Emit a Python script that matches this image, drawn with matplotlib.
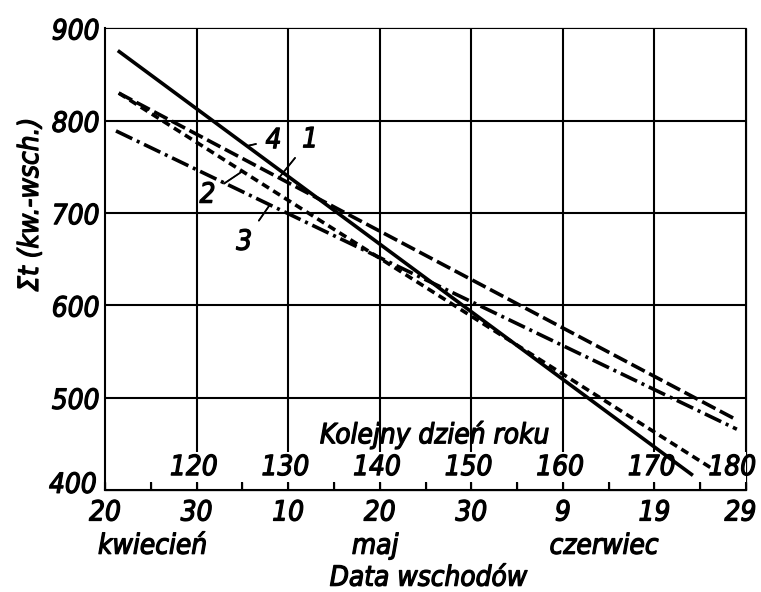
import numpy as np
import matplotlib as mpl
from matplotlib import pyplot as plt
from matplotlib import patheffects as pe
from matplotlib.transforms import ScaledTranslation

# day-of-year range and tick labels
day_ticks = [110, 120, 130, 140, 150, 160, 170, 180]
date_labels = ['20', '30', '10', '20', '30', '9', '19', '29']
doy_labels = ['120', '130', '140', '150', '160', '170', '180']
months = ['kwiecień', 'maj', 'czerwiec']
month_days = [115.2, 139.5, 164.5]
y_ticks = [400, 500, 600, 700, 800, 900]

# the four regression lines (start / end of each)
names = ['1', '2', '3', '4']
line_days = [[111.5, 179.0], [111.5, 176.2], [111.2, 179.0], [111.4, 174.2]]
line_vals = [[830, 476], [830, 424], [789, 466], [876, 416]]

# where the number labels sit, and the day on the line their leader touches
label_xy = [(132.4, 780), (121.2, 720), (125.2, 669), (128.4, 779)]
leader_day = [129.0, 125.0, 128.0, 125.5]

mpl.rcParams['lines.scale_dashes'] = False
plt.rcParams['font.family'] = ['DejaVu Sans']
plt.rcParams['font.stretch'] = 'condensed'
plt.rcParams['font.style'] = 'italic'
plt.rcParams['font.size'] = 20
plt.rcParams['path.effects'] = [pe.withStroke(linewidth=0.9, foreground='black')]

dash_styles = [(0, (10.8, 3.6)), (0, (5.8, 3.6)), (0, (13, 3.6, 2.2, 3.6)), '-']

fig = plt.figure(figsize=(7.61, 5.92), dpi=100)
ax = fig.add_axes([105 / 761, 0.172, 641 / 761, 0.780])
ax.set_xlim(110, 180)
ax.set_ylim(400, 900)

grid_floor = 441
lw_grid = 1.5
nofx = []
ax.vlines(day_ticks[1:], grid_floor, 900, color='black', lw=lw_grid, path_effects=nofx)
ax.hlines(y_ticks[1:], 110, 180, color='black', lw=lw_grid, path_effects=nofx)
for s in ['top', 'right']:
    ax.spines[s].set_visible(False)
for s in ['left', 'bottom']:
    ax.spines[s].set_linewidth(lw_grid)
    ax.spines[s].set_path_effects(nofx)

for d, v, ls in zip(line_days, line_vals, dash_styles):
    ax.plot(d, v, color='black', lw=2.6, linestyle=ls, solid_capstyle='butt', path_effects=nofx)

for i, name in enumerate(names):
    yl = np.interp(leader_day[i], line_days[i], line_vals[i])
    ax.annotate(name, xy=(leader_day[i], yl), xytext=label_xy[i],
                ha='center', va='center',
                arrowprops=dict(arrowstyle='-', color='black', lw=1.3,
                                shrinkA=5, shrinkB=0))

ax.set_yticks(y_ticks)
ax.set_yticklabels([str(v) for v in y_ticks])
ax.tick_params(axis='y', length=0, pad=4)
first = ax.get_yticklabels()[0]
first.set_transform(first.get_transform() + ScaledTranslation(-2 / 72, 6 / 72, fig.dpi_scale_trans))

ax.set_xticks(day_ticks)
ax.set_xticklabels(date_labels)
ax.set_xticks(np.arange(115, 180, 10), minor=True)
ax.tick_params(axis='x', which='both', direction='in', length=6, width=lw_grid, pad=6)
last = ax.get_xticklabels()[-1]
last.set_transform(last.get_transform() + ScaledTranslation(-4 / 72, 0, fig.dpi_scale_trans))

doy_x = np.minimum(np.array(day_ticks[1:]) - 0.3, 178.5)
for d, lab in zip(doy_x, doy_labels):
    ax.text(d, 425, lab, ha='center', va='center')
ax.text(146, 460, 'Kolejny dzień roku', ha='center', va='center')

for m, d in zip(months, month_days):
    ax.annotate(m, xy=(d, 0), xycoords=('data', 'axes fraction'),
                xytext=(0, -40), textcoords='offset points', ha='center', va='center')
ax.annotate('Data wschodów', xy=(145.3, 0), xycoords=('data', 'axes fraction'),
            xytext=(0, -63), textcoords='offset points', ha='center', va='center')

fig.text(30 / 761, 1 - 205 / 592, 'Σt (kw.-wsch.)', rotation=90, ha='center', va='center')

fig.savefig('out.png', dpi=100)
